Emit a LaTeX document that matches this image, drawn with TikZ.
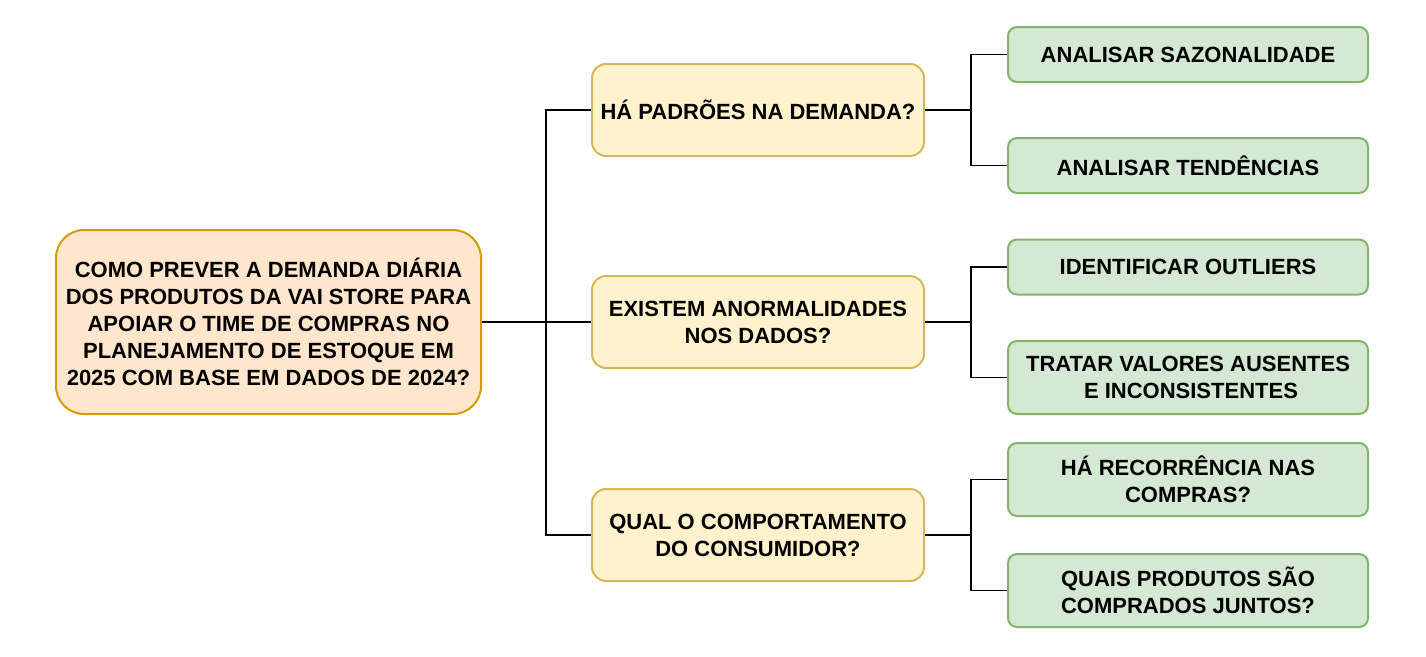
\documentclass[tikz,border=0pt]{standalone}
\usepackage{fontspec}
\setmainfont{Liberation Sans}
\definecolor{rootfill}{HTML}{FFE6CC}
\definecolor{rootdraw}{HTML}{D79B00}
\definecolor{midfill}{HTML}{FFF2CC}
\definecolor{middraw}{HTML}{D6B656}
\definecolor{leaffill}{HTML}{D5E8D4}
\definecolor{leafdraw}{HTML}{82B366}
\tikzset{
  box/.style={draw, line width=2pt, inner sep=0pt, align=center,
    font=\fontsize{22}{27}\selectfont\bfseries},
  rootbox/.style={box, fill=rootfill, draw=rootdraw, rounded corners=28pt,
    minimum width=425pt, minimum height=184pt},
  midbox/.style={box, fill=midfill, draw=middraw, rounded corners=14pt,
    minimum width=332pt, minimum height=92pt},
  leafbox/.style={box, fill=leaffill, draw=leafdraw, rounded corners=9pt,
    minimum width=360pt, minimum height=55pt},
  leafbig/.style={leafbox, minimum height=73pt},
  conn/.style={draw=black, line width=1.5pt}
}
\begin{document}
\begin{tikzpicture}[x=1pt,y=-1pt]
\useasboundingbox (0,0) rectangle (1426,656);
\node[rootbox] (root) at (268.5,322) {COMO PREVER A DEMANDA DIÁRIA\\DOS PRODUTOS DA VAI STORE PARA\\APOIAR O TIME DE COMPRAS NO\\PLANEJAMENTO DE ESTOQUE EM\\2025 COM BASE EM DADOS DE 2024?};
\node[midbox] (m1) at (758,110) {HÁ PADRÕES NA DEMANDA?};
\node[midbox] (m2) at (758,322) {EXISTEM ANORMALIDADES\\NOS DADOS?};
\node[midbox] (m3) at (758,535) {QUAL O COMPORTAMENTO\\DO CONSUMIDOR?};
\node[leafbox] (g1) at (1188,54.5) {ANALISAR SAZONALIDADE};
\node[leafbox] (g2) at (1188,165.5) {ANALISAR TENDÊNCIAS};
\node[leafbox] (g3) at (1188,267) {IDENTIFICAR OUTLIERS};
\node[leafbig] (g4) at (1188,377.5) {TRATAR VALORES AUSENTES\\\hspace*{6pt}E INCONSISTENTES};
\node[leafbig] (g5) at (1188,479.5) {HÁ RECORRÊNCIA NAS\\COMPRAS?};
\node[leafbig] (g6) at (1188,590.5) {QUAIS PRODUTOS SÃO\\COMPRADOS JUNTOS?};
\coordinate (j0) at (546,322);
\coordinate (j1) at (971,110);
\coordinate (j2) at (971,322);
\coordinate (j3) at (971,535);
\draw[conn] (root.east) -- (m2.west);
\draw[conn] (m1.west) -| (j0) |- (m3.west);
\draw[conn] (m1.east) -- (j1);
\draw[conn] (g1.west) -| (j1) |- (g2.west);
\draw[conn] (m2.east) -- (j2);
\draw[conn] (g3.west) -| (j2) |- (g4.west);
\draw[conn] (m3.east) -- (j3);
\draw[conn] (g5.west) -| (j3) |- (g6.west);
\end{tikzpicture}
\end{document}
